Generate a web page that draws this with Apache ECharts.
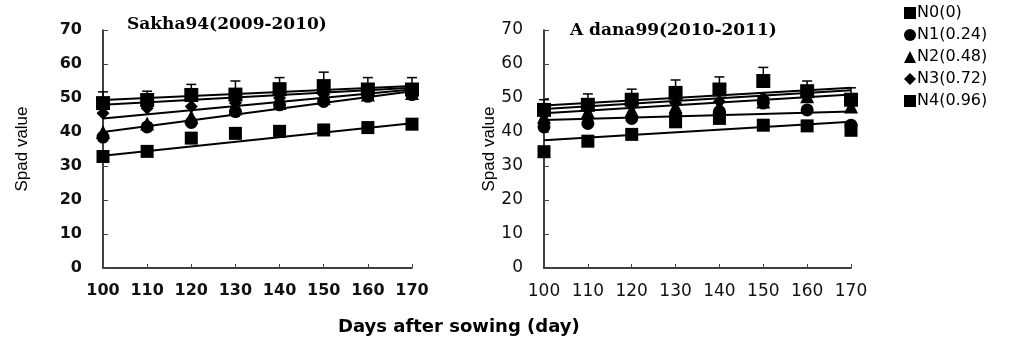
<!DOCTYPE html>
<html>
<head>
<meta charset="utf-8">
<script src="https://cdn.jsdelivr.net/npm/echarts@6/dist/echarts.min.js"></script>
<style>
html,body{margin:0;padding:0;background:#fff;}
#chart{width:1010px;height:337px;}
</style>
</head>
<body>
<div id="chart"></div>
<script>
// ---- data ----
const days = [100, 110, 120, 130, 140, 150, 160, 170];
const xTicks = [100, 110, 120, 130, 140, 150, 160, 170];
const yTicks = [0, 10, 20, 30, 40, 50, 60, 70];
const seriesNames = ['N0(0)', 'N1(0.24)', 'N2(0.48)', 'N3(0.72)', 'N4(0.96)'];
const seriesSymbols = ['rect', 'circle', 'triangle', 'diamond', 'rect'];

// Sakha94 (2009-2010)
const sakhaN0 = [32.8, 34.3, 38.2, 39.6, 40.2, 40.6, 41.3, 42.3];
const sakhaN1 = [38.5, 41.5, 42.8, 46.0, 48.0, 49.0, 50.5, 51.0];
const sakhaN2 = [40.0, 42.5, 44.5, 47.0, 48.5, 50.0, 51.0, 51.5];
const sakhaN3 = [45.5, 47.0, 47.5, 48.5, 50.0, 51.0, 51.5, 52.5];
const sakhaN4 = [48.5, 49.4, 50.9, 51.0, 52.6, 53.5, 52.5, 52.5];
const sakhaN4Err = [3.3, 2.6, 3.1, 4.0, 3.4, 4.1, 3.5, 3.5];
// fitted trend lines, values read at day 100 and day 170
const sakhaTrendN0 = [33.0, 42.6];
const sakhaTrendN1 = [40.0, 52.0];
const sakhaTrendN2 = [44.0, 52.5];
const sakhaTrendN3 = [48.0, 53.0];
const sakhaTrendN4 = [49.4, 53.5];

// Adana99 (2010-2011)
const adanaN0 = [34.2, 37.3, 39.3, 43.0, 44.0, 42.0, 41.8, 40.5];
const adanaN1 = [41.5, 42.5, 44.0, 45.0, 46.0, 48.5, 46.5, 42.0];
const adanaN2 = [44.5, 46.0, 46.5, 47.5, 47.5, 49.0, 50.5, 47.5];
const adanaN3 = [45.5, 47.0, 48.0, 48.5, 49.0, 50.0, 51.0, 48.5];
const adanaN4 = [46.5, 48.0, 49.5, 51.5, 52.5, 55.0, 52.0, 49.5];
const adanaN4Err = [3.0, 3.2, 3.1, 3.8, 3.7, 4.0, 3.0, 3.5];
const adanaTrendN0 = [37.6, 43.0];
const adanaTrendN1 = [43.5, 46.0];
const adanaTrendN2 = [45.5, 51.0];
const adanaTrendN3 = [46.8, 52.3];
const adanaTrendN4 = [47.8, 53.0];
const trendDays = [100, 170];

// ---- build ----
const panels = [
  {vals: [sakhaN0, sakhaN1, sakhaN2, sakhaN3, sakhaN4], err: sakhaN4Err,
   trends: [sakhaTrendN0, sakhaTrendN1, sakhaTrendN2, sakhaTrendN3, sakhaTrendN4]},
  {vals: [adanaN0, adanaN1, adanaN2, adanaN3, adanaN4], err: adanaN4Err,
   trends: [adanaTrendN0, adanaTrendN1, adanaTrendN2, adanaTrendN3, adanaTrendN4]}
];
const symbolSizes = [13, 13, 14, 13, 14];

const series = [];
panels.forEach((p, pi) => {
  p.trends.forEach((t, si) => {
    series.push({
      type: 'line', name: seriesNames[si] + ' fit', xAxisIndex: pi, yAxisIndex: pi,
      data: trendDays.map((d, k) => [d, t[k]]), showSymbol: false, symbol: 'none',
      lineStyle: {color: '#000', width: 2}, silent: true, z: 2, animation: false
    });
  });
  series.push({
    type: 'custom', name: 'err' + pi, xAxisIndex: pi, yAxisIndex: pi, z: 3, animation: false,
    data: days.map((d, k) => [d, p.vals[4][k], p.err[k]]),
    renderItem: function (params, api) {
      const x = api.value(0), y = api.value(1), e = api.value(2);
      const a = api.coord([x, y]);
      const b = api.coord([x, y + e]);
      return {type: 'group', children: [
        {type: 'line', shape: {x1: a[0], y1: a[1], x2: b[0], y2: b[1]}, style: {stroke: '#000', lineWidth: 1.5}},
        {type: 'line', shape: {x1: b[0] - 5, y1: b[1], x2: b[0] + 5, y2: b[1]}, style: {stroke: '#000', lineWidth: 1.5}}
      ]};
    }
  });
  p.vals.forEach((v, si) => {
    series.push({
      type: 'scatter', name: seriesNames[si], xAxisIndex: pi, yAxisIndex: pi,
      data: days.map((d, k) => [d, v[k]]), symbol: seriesSymbols[si], symbolSize: symbolSizes[si],
      itemStyle: {color: '#000', opacity: 1}, z: 4, animation: false
    });
  });
});

function xAxis(gi, bold) {
  return {
    type: 'value', gridIndex: gi, min: 100, max: 170, interval: 10,
    axisLine: {show: true, onZero: false, lineStyle: {color: '#000', width: 1.5}},
    axisTick: {show: true, inside: true, length: 4, lineStyle: {color: '#444'}},
    splitLine: {show: false},
    axisLabel: {color: '#111', fontFamily: 'DejaVu Sans', fontSize: bold ? 16 : 17, fontWeight: bold ? 'bold' : 'normal', margin: 15,
      formatter: v => xTicks.includes(v) ? String(v) : ''}
  };
}
function yAxis(gi, bold, gap) {
  return {
    type: 'value', gridIndex: gi, min: 0, max: 70, interval: 10,
    name: 'Spad value', nameLocation: 'middle', nameGap: gap, nameRotate: 90,
    nameTextStyle: {color: '#000', fontFamily: 'Liberation Sans Narrow, Liberation Sans', fontSize: 17},
    axisLine: {show: true, onZero: false, lineStyle: {color: '#000', width: 1.5}},
    axisTick: {show: true, inside: true, length: 5, lineStyle: {color: '#444'}},
    splitLine: {show: false},
    axisLabel: {color: '#111', fontFamily: 'DejaVu Sans', fontSize: bold ? 16 : 17, fontWeight: bold ? 'bold' : 'normal', margin: 21,
      formatter: v => yTicks.includes(v) ? String(v) : ''}
  };
}

const chart = echarts.init(document.getElementById('chart'), null, {renderer: 'canvas'});
chart.setOption({
  animation: false,
  backgroundColor: '#fff',
  title: [
    {text: 'Sakha94(2009-2010)', left: 122, top: 11,
     textStyle: {fontFamily: 'DejaVu Serif', fontWeight: 'bold', fontSize: 17, color: '#000'}},
    {text: 'A dana99(2010-2011)', left: 565, top: 17,
     textStyle: {fontFamily: 'DejaVu Serif', fontWeight: 'bold', fontSize: 17, color: '#000'}},
    {text: 'Days after sowing (day)', left: 333, top: 313,
     textStyle: {fontFamily: 'DejaVu Sans', fontWeight: 'bold', fontSize: 18, color: '#000'}}
  ],
  legend: {
    orient: 'vertical', left: 899, top: 0, itemGap: 6, itemWidth: 12, itemHeight: 12,
    textStyle: {fontFamily: 'DejaVu Sans', fontSize: 16, color: '#000', padding: [0, 0, 0, -4]},
    data: seriesNames.map((n, i) => ({name: n, icon: seriesSymbols[i]})),
    itemStyle: {color: '#000', opacity: 1}, selectedMode: false
  },
  grid: [
    {left: 103, top: 30, width: 309, height: 238},
    {left: 544, top: 30, width: 307, height: 238}
  ],
  xAxis: [xAxis(0, true), xAxis(1, false)],
  yAxis: [yAxis(0, true, 72), yAxis(1, false, 41)],
  series: series
});
</script>
</body>
</html>
